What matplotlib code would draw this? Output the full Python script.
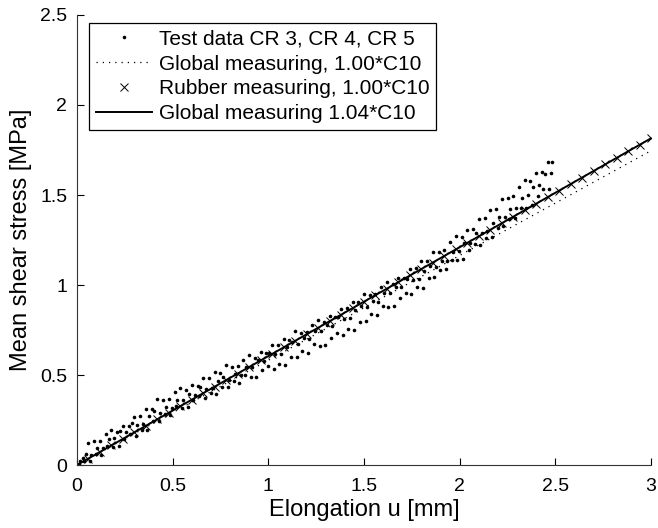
import matplotlib
matplotlib.use("Agg")
import matplotlib.pyplot as plt

plt.rcParams["font.family"] = ["Liberation Sans", "DejaVu Sans"]

# Test data, three specimens (elongation in mm, mean shear stress in MPa)
cr3_u = [0.00, 0.03, 0.06, 0.09, 0.12, 0.15, 0.18, 0.21, 0.24, 0.27, 0.30, 0.33, 0.36, 0.39,
         0.42, 0.45, 0.48, 0.51, 0.54, 0.57, 0.60, 0.63, 0.66, 0.69, 0.72, 0.75, 0.78, 0.81,
         0.84, 0.87, 0.90, 0.93, 0.96, 0.99, 1.02, 1.05, 1.08, 1.11, 1.14, 1.17, 1.20, 1.23,
         1.26, 1.29, 1.32, 1.35, 1.38, 1.41, 1.44, 1.47, 1.50, 1.53, 1.56, 1.59, 1.62, 1.65,
         1.68, 1.71, 1.74, 1.77, 1.80, 1.83, 1.86, 1.89, 1.92, 1.95, 1.98, 2.01, 2.04, 2.07,
         2.10, 2.13, 2.16, 2.19, 2.22, 2.25, 2.28, 2.31, 2.34, 2.37, 2.40, 2.43, 2.46, 2.48]
cr3_tau = [0.000, 0.041, 0.123, 0.131, 0.136, 0.171, 0.195, 0.183, 0.216, 0.214, 0.265, 0.270,
           0.310, 0.313, 0.365, 0.361, 0.366, 0.406, 0.430, 0.417, 0.447, 0.440, 0.485, 0.484,
           0.517, 0.511, 0.556, 0.546, 0.548, 0.586, 0.610, 0.597, 0.627, 0.620, 0.666, 0.667,
           0.701, 0.697, 0.743, 0.735, 0.738, 0.778, 0.805, 0.794, 0.826, 0.821, 0.868, 0.870,
           0.906, 0.903, 0.951, 0.944, 0.949, 0.990, 1.017, 1.007, 1.040, 1.037, 1.087, 1.092,
           1.132, 1.133, 1.186, 1.183, 1.193, 1.238, 1.270, 1.265, 1.306, 1.310, 1.365, 1.374,
           1.418, 1.423, 1.479, 1.481, 1.495, 1.545, 1.581, 1.580, 1.622, 1.627, 1.684, 1.686]

cr4_u = [0.015, 0.045, 0.075, 0.105, 0.135, 0.165, 0.195, 0.225, 0.255, 0.285, 0.315, 0.345,
         0.375, 0.405, 0.435, 0.465, 0.495, 0.525, 0.555, 0.585, 0.615, 0.645, 0.675, 0.705,
         0.735, 0.765, 0.795, 0.825, 0.855, 0.885, 0.915, 0.945, 0.975, 1.005, 1.035, 1.065,
         1.095, 1.125, 1.155, 1.185, 1.215, 1.245, 1.275, 1.305, 1.335, 1.365, 1.395, 1.425,
         1.455, 1.485, 1.515, 1.545, 1.575, 1.605, 1.635, 1.665, 1.695, 1.725, 1.755, 1.785,
         1.815, 1.845, 1.875, 1.905, 1.935, 1.965, 1.995, 2.025, 2.055, 2.085, 2.115, 2.145,
         2.175, 2.205, 2.235, 2.265, 2.295, 2.325, 2.355, 2.385, 2.415, 2.445, 2.475]
cr4_tau = [0.021, 0.060, 0.057, 0.096, 0.095, 0.146, 0.151, 0.187, 0.184, 0.232, 0.225, 0.230,
           0.271, 0.298, 0.288, 0.321, 0.317, 0.363, 0.362, 0.395, 0.389, 0.434, 0.424, 0.426,
           0.464, 0.488, 0.475, 0.506, 0.500, 0.547, 0.547, 0.582, 0.577, 0.624, 0.615, 0.619,
           0.658, 0.684, 0.672, 0.704, 0.698, 0.745, 0.745, 0.780, 0.775, 0.822, 0.813, 0.818,
           0.859, 0.886, 0.876, 0.909, 0.905, 0.953, 0.955, 0.991, 0.988, 1.036, 1.029, 1.034,
           1.077, 1.107, 1.100, 1.136, 1.135, 1.186, 1.191, 1.232, 1.235, 1.289, 1.288, 1.299,
           1.346, 1.380, 1.379, 1.421, 1.426, 1.485, 1.499, 1.547, 1.556, 1.615, 1.620]

cr5_u = [0.008, 0.038, 0.068, 0.098, 0.128, 0.158, 0.188, 0.218, 0.248, 0.278, 0.308, 0.338,
         0.368, 0.398, 0.428, 0.458, 0.488, 0.518, 0.548, 0.578, 0.608, 0.638, 0.668, 0.698,
         0.728, 0.758, 0.788, 0.818, 0.848, 0.878, 0.908, 0.938, 0.968, 0.998, 1.028, 1.058,
         1.088, 1.118, 1.148, 1.178, 1.208, 1.238, 1.268, 1.298, 1.328, 1.358, 1.388, 1.418,
         1.448, 1.478, 1.508, 1.538, 1.568, 1.598, 1.628, 1.658, 1.688, 1.718, 1.748, 1.778,
         1.808, 1.838, 1.868, 1.898, 1.928, 1.958, 1.988, 2.018, 2.048, 2.078, 2.108, 2.138,
         2.168, 2.198, 2.228, 2.258, 2.288, 2.318, 2.348, 2.378, 2.408, 2.438, 2.468]
cr5_tau = [0.003, 0.025, 0.025, 0.061, 0.058, 0.106, 0.099, 0.104, 0.145, 0.172, 0.162, 0.197,
           0.194, 0.244, 0.246, 0.282, 0.279, 0.326, 0.317, 0.321, 0.360, 0.384, 0.371, 0.401,
           0.393, 0.436, 0.434, 0.465, 0.458, 0.501, 0.490, 0.490, 0.527, 0.549, 0.535, 0.563,
           0.555, 0.599, 0.598, 0.631, 0.625, 0.672, 0.663, 0.667, 0.706, 0.732, 0.720, 0.753,
           0.749, 0.797, 0.799, 0.837, 0.835, 0.885, 0.879, 0.886, 0.928, 0.958, 0.951, 0.987,
           0.986, 1.039, 1.045, 1.086, 1.087, 1.140, 1.137, 1.147, 1.194, 1.227, 1.223, 1.262,
           1.264, 1.318, 1.326, 1.368, 1.371, 1.427, 1.429, 1.443, 1.493, 1.532, 1.534]

# FE results
glob100_u = [0.0, 1.0, 2.0, 3.0]
glob100_tau = [0.0, 0.582, 1.164, 1.746]

glob104_u = [0.0, 1.0, 2.0, 3.0]
glob104_tau = [0.0, 0.605, 1.210, 1.815]

rubber_u = [0.00, 0.06, 0.12, 0.18, 0.24, 0.30, 0.36, 0.42, 0.48, 0.54, 0.60, 0.66, 0.72,
            0.78, 0.84, 0.90, 0.96, 1.02, 1.08, 1.14, 1.20, 1.26, 1.32, 1.38, 1.44, 1.50,
            1.56, 1.62, 1.68, 1.74, 1.80, 1.86, 1.92, 1.98, 2.04, 2.10, 2.16, 2.22, 2.28,
            2.34, 2.40, 2.46, 2.52, 2.58, 2.64, 2.70, 2.76, 2.82, 2.88, 2.94, 3.00]
rubber_tau = [0.000, 0.036, 0.073, 0.109, 0.145, 0.182, 0.218, 0.254, 0.290, 0.327, 0.363,
              0.399, 0.436, 0.472, 0.508, 0.545, 0.581, 0.617, 0.653, 0.690, 0.726, 0.762,
              0.799, 0.835, 0.871, 0.908, 0.944, 0.980, 1.016, 1.053, 1.089, 1.125, 1.162,
              1.198, 1.234, 1.271, 1.307, 1.343, 1.379, 1.416, 1.452, 1.488, 1.525, 1.561,
              1.597, 1.634, 1.670, 1.706, 1.742, 1.779, 1.815]

labels = ["Test data CR 3, CR 4, CR 5",
          "Global measuring, 1.00*C10",
          "Rubber measuring, 1.00*C10",
          "Global measuring 1.04*C10"]

x_ticks = [0, 0.5, 1, 1.5, 2, 2.5, 3]
x_ticklabels = ["0", "0.5", "1", "1.5", "2", "2.5", "3"]
y_ticks = [0, 0.5, 1, 1.5, 2, 2.5]
y_ticklabels = ["0", "0.5", "1", "1.5", "2", "2.5"]

fig = plt.figure(figsize=(6.58, 5.28), dpi=100)
ax = fig.add_axes([0.117, 0.1193, 0.8724, 0.8523])

dot_kw = dict(linestyle="none", marker="o", markersize=2.6, markeredgewidth=0,
              color="black")
h_test, = ax.plot(cr3_u, cr3_tau, **dot_kw)
ax.plot(cr4_u, cr4_tau, **dot_kw)
ax.plot(cr5_u, cr5_tau, **dot_kw)

h_g100, = ax.plot(glob100_u, glob100_tau, color="black", linewidth=0.9,
                  linestyle=(0, (1, 4)))
h_rub, = ax.plot(rubber_u, rubber_tau, linestyle="none", marker="x",
                 markersize=5.5, markeredgewidth=0.7, color="black")
h_g104, = ax.plot(glob104_u, glob104_tau, color="black", linewidth=1.4)

ax.set_xlim(0, 3)
ax.set_ylim(0, 2.5)
ax.set_xticks(x_ticks)
ax.set_xticklabels(x_ticklabels)
ax.set_yticks(y_ticks)
ax.set_yticklabels(y_ticklabels)
ax.tick_params(direction="in", length=5, width=0.8, labelsize=14, pad=7)
ax.tick_params(axis="x", pad=9)

for side in ("top", "right"):
    ax.spines[side].set_visible(False)
for side in ("left", "bottom"):
    ax.spines[side].set_linewidth(0.8)
    ax.spines[side].set_color("#333333")

ax.set_xlabel("Elongation u [mm]", fontsize=17, labelpad=3)
ax.set_ylabel("Mean shear stress [MPa]", fontsize=17, labelpad=6)

leg = ax.legend([h_test, h_g100, h_rub, h_g104], labels,
                loc="upper left", bbox_to_anchor=(0.0209, 0.982), borderaxespad=0,
                fontsize=15, numpoints=1, handlelength=2.7, handletextpad=0.35,
                labelspacing=0.28, borderpad=0.32, fancybox=False, framealpha=1)
leg.get_frame().set_edgecolor("black")
leg.get_frame().set_linewidth(0.9)

fig.savefig("out.png", dpi=100)
